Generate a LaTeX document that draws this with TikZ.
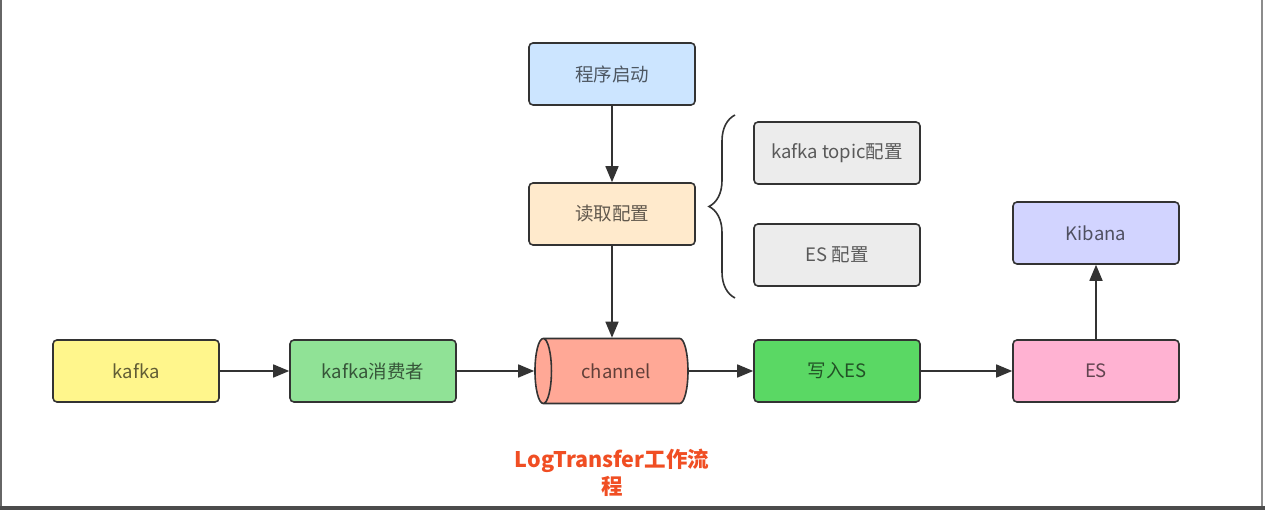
\documentclass[tikz,border=0pt]{standalone}
\usepackage{fontspec}
\setmainfont{Noto Sans CJK SC}
\usepackage{tikz}
\usetikzlibrary{shapes.geometric}
\usetikzlibrary{arrows.meta}
\usetikzlibrary{decorations.pathreplacing}

\begin{document}
\begin{tikzpicture}[x=1pt, y=1pt,
 every text node part/.style={align=center},
 every node/.style={font=\fontsize{18.5}{22}\selectfont},
block/.style={rectangle, inner sep=0pt, minimum width=166pt, minimum height=62pt, rounded corners=4pt, draw=line, line width=1.6pt, text=black, text opacity=0.62},
pipe/.style={cylinder, shape border rotate=180, shape aspect=1.1, inner sep=0pt, minimum width=65pt, minimum height=153pt, draw=line, line width=1.6pt, cylinder uses custom fill, cylinder end fill=chan, cylinder body fill=chan, text=black, text opacity=0.62},
arrow/.style={-{Triangle[length=16pt, width=13pt]}, line width=1.6pt, draw=line},
brace/.style={decorate, decoration={brace, amplitude=26pt}, line width=1.6pt, draw=line}]

    \definecolor{line}{RGB}{51,51,51}
    \definecolor{start}{RGB}{204,229,255}
    \definecolor{cfg}{RGB}{255,234,204}
    \definecolor{opt}{RGB}{236,236,236}
    \definecolor{kib}{RGB}{210,212,255}
    \definecolor{kaf}{RGB}{255,246,140}
    \definecolor{cons}{RGB}{144,226,150}
    \definecolor{chan}{RGB}{255,168,150}
    \definecolor{wes}{RGB}{90,216,100}
    \definecolor{es}{RGB}{255,178,210}
    \definecolor{title}{RGB}{240,78,35}

    \useasboundingbox (0,0) rectangle (1265,510);
    \fill[black!70] (0,0) rectangle (1265,4);
    \draw[black!60, line width=2pt] (1,4) -- (1,510);
    \draw[black!45, line width=2pt] (1262,4) -- (1262,510);

	\node[block, fill=start] (boot) at (612,436) {程序启动};
	\node[block, fill=cfg] (readcfg) at (612,296) {读取配置};
	\node[block, fill=opt] (topiccfg) at (837,357) {kafka topic配置};
	\node[block, fill=opt] (escfg) at (837,255) {ES 配置};
	\node[block, fill=kib] (kibana) at (1096,277) {Kibana};
	\node[block, fill=kaf] (kafka) at (136,139) {kafka};
	\node[block, fill=cons] (consumer) at (373,139) {kafka消费者};
	\node[pipe] (channel) at (616,139) {channel};
	\node[block, fill=wes] (writees) at (837,139) {写入ES};
	\node[block, fill=es] (es) at (1096,139) {ES};
	\node[text=title, font=\fontsize{21.5}{27}\selectfont\bfseries] (caption) at (612,37) {LogTransfer工作流\\程};

	\coordinate (bracetop) at (735,395);
	\coordinate (bracebot) at (735,212);
	\draw[brace] (bracebot) -- (bracetop);

	\draw (boot) edge [arrow] (readcfg);
	\draw (readcfg) edge [arrow] (readcfg |- channel.north);
	\draw (kafka) edge [arrow] (consumer);
	\draw (consumer) edge [arrow] (channel.west);
	\draw (channel.east) edge [arrow] (writees);
	\draw (writees) edge [arrow] (es);
	\draw (es) edge [arrow] (kibana);
\end{tikzpicture}
\end{document}
